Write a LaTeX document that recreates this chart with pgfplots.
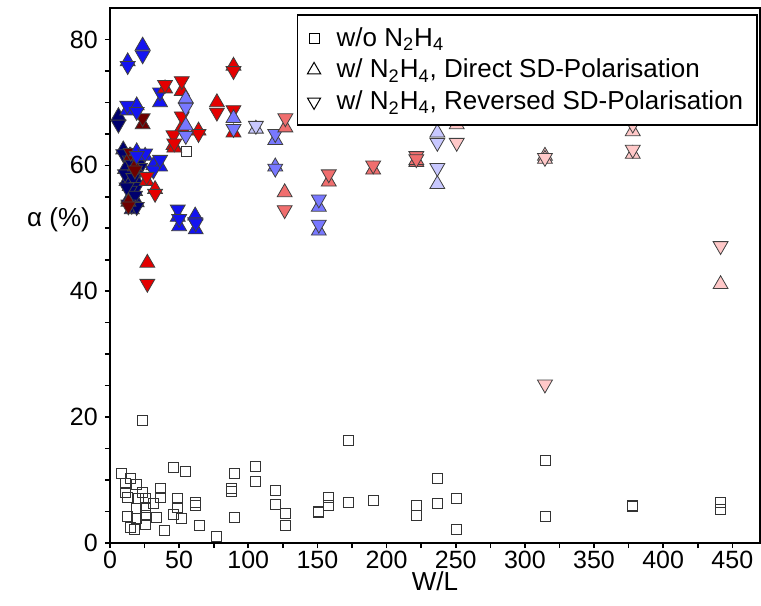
\documentclass[border=0pt]{standalone}
\usepackage{fontspec}
\setmainfont{Liberation Sans}
\usepackage{pgfplots}
\usepackage{pgfplotstable}
\pgfplotsset{compat=1.18}
\usetikzlibrary{calc}

\definecolor{navyc}{RGB}{0,0,110}
\definecolor{darkredc}{RGB}{110,0,0}
\definecolor{bluec}{RGB}{20,20,240}
\definecolor{redc}{RGB}{228,0,0}
\definecolor{medbluec}{RGB}{120,120,255}
\definecolor{salmonc}{RGB}{240,110,110}
\definecolor{lightbluec}{RGB}{200,200,255}
\definecolor{pinkc}{RGB}{255,200,200}

% squares: devices without N2H4
\pgfplotstableread{
x y
23.6 19.4
8 11.1
10.9 9.4
14.5 10.2
19.3 9.3
23.6 8.1
12.8 7.3
10.9 8.1
20.5 7.0
26 7.0
26 5.6
19.3 5.5
12.8 4.2
14.5 2.4
18 2.2
25.4 3.0
25.4 4.3
19.3 3.9
31.4 6.2
33.3 4.1
36.2 8.6
36.2 7.3
39.6 2.0
45.9 12.0
54.8 11.4
48.8 7.0
48.8 5.6
45.9 4.6
51.9 3.9
61.6 6.5
61.6 6.0
64.5 2.7
77.2 1.0
87.7 8.6
87.7 8.2
89.8 11.0
89.8 4.1
105.5 12.1
105.5 9.7
119.5 8.3
119.5 6.1
126.8 4.7
126.8 2.7
151 5.0
151 4.8
158.2 7.3
158.2 6.0
172.7 16.3
172.7 6.5
190.3 6.8
221.7 5.9
221.7 4.3
236.7 10.3
236.7 6.3
250.7 7.0
250.7 2.2
314.7 13.1
314.7 4.2
378 5.9
378 5.8
441.5 6.5
441.5 5.3
55.3 62.2
}\sq

% triangles: x, direct (D), reversed (R)
\pgfplotstableread{
x D R
6.1 67.8 66.5
9.6 62.5 61.8
10.9 59.4 58.6
14.3 61.5 60.8
16.9 58.8 58.0
19.3 57.5 56.6
14.3 56.7 56.0
18.1 55.9 55.2
13.3 54.6 53.8
15.7 53.0 53.6
19.3 54.1 53.4
21.7 60.4 59.6
12 57.5 56.5
}\navy
\pgfplotstableread{
x D R
23.6 66.5 67.5
18 59.8 59.2
13.3 54.2 53.5
15 61.5 62
}\darkred
\pgfplotstableread{
x D R
12.8 76.5 75.8
23.6 79 77.5
12.5 68.7 69.5
19.3 69.5 68.5
36.2 70 71.6
25.4 61.5 61.9
19.3 62.2 61.5
31.4 60 59.2
36.2 59.8 60.9
49 51.8 53
50 50.3 51.5
61.6 52 51
62 49.8 50.8
}\blue
\pgfplotstableread{
x D R
27 44.5 41.2
26.5 57.5 58.2
32.6 56.2 55.5
39.8 72.2 72.8
45.9 63.2 64.8
46.5 62.8 63.5
51.9 71.8 73.4
51.9 66 67.8
64 65.5 65
77.3 70 68.4
89.3 75.8 75
89.3 65.2 68.8
}\red
\pgfplotstableread{
x D R
54.8 70.6 69.2
54.8 66.3 64.7
89.3 67.5 65.8
119.5 64 65
119.5 59.8 59.5
151 53.4 54.6
151 49.6 50.6
}\medblue
\pgfplotstableread{
x D R
105.5 65.8 66.3
236.7 65.2 63.6
236.7 57 59.6
}\lightblue
\pgfplotstableread{
x D R
126.3 55.7 52.9
126.8 66 67.5
158.2 57.4 58.6
190.3 59.3 60
221.5 60.5 61.5
221.5 60.8 61
}\salmon
\pgfplotstableread{
x D R
250.7 66.5 63.6
314.5 61.5 61.2
314.5 61 25.2
378 65.4 62.5
378 61.8 66.5
441.5 41.1 47.2
}\pink

\pgfplotsset{
  up/.style={only marks, forget plot, mark=triangle*, mark size=4.3pt,
    mark options={draw=black!75, line width=0.4pt, fill=#1}},
  dn/.style={only marks, forget plot, mark=triangle*, mark size=4.3pt,
    mark options={draw=black!75, line width=0.4pt, fill=#1, rotate=180}},
}

\begin{document}
\begin{tikzpicture}
\begin{axis}[
  scale only axis,
  width=325pt, height=267.5pt,
  xmin=0, xmax=470, ymin=0, ymax=85,
  xtick={0,50,...,450}, minor x tick num=1,
  ytick={0,20,...,80}, minor y tick num=3,
  xtick pos=bottom, ytick pos=left,
  tick align=outside,
  major tick length=2.6pt, minor tick length=2.6pt,
  tick style={black, line width=0.8pt},
  axis line style={black, line width=1pt},
  ticklabel style={font=\fontsize{12.5}{14}\selectfont},
  xticklabel style={yshift=2.2pt},
  /pgf/number format/assume math mode=true,
  xlabel={W/L}, ylabel={α (\%)},
  every axis x label/.style={at={(rel axis cs:0.5,0)}, anchor=base,
    yshift=-24pt, font=\fontsize{13}{15}\selectfont},
  every axis y label/.style={at={(rel axis cs:0,0.605)}, anchor=east,
    xshift=-6.5pt, font=\fontsize{13}{15}\selectfont},
  legend style={at={(rel axis cs:0.997,0.988)}, anchor=north east,
    draw=black, line width=0.8pt, font=\fontsize{13}{15}\selectfont,
    row sep=1pt, inner xsep=5pt, inner ysep=4pt,
    /tikz/every odd column/.append style={column sep=6pt}},
  legend cell align=left,
]
\addplot[only marks, forget plot, mark=square, mark size=2.5pt,
  mark options={draw=black!80, line width=0.5pt}] table[x=x, y=y] {\sq};

\addplot[up=navyc] table[x=x, y=D] {\navy};
\addplot[dn=navyc] table[x=x, y=R] {\navy};
\addplot[up=darkredc] table[x=x, y=D] {\darkred};
\addplot[dn=darkredc] table[x=x, y=R] {\darkred};
\addplot[up=bluec] table[x=x, y=D] {\blue};
\addplot[dn=bluec] table[x=x, y=R] {\blue};
\addplot[up=redc] table[x=x, y=D] {\red};
\addplot[dn=redc] table[x=x, y=R] {\red};
\addplot[up=medbluec] table[x=x, y=D] {\medblue};
\addplot[dn=medbluec] table[x=x, y=R] {\medblue};
\addplot[up=lightbluec] table[x=x, y=D] {\lightblue};
\addplot[dn=lightbluec] table[x=x, y=R] {\lightblue};
\addplot[up=salmonc] table[x=x, y=D] {\salmon};
\addplot[dn=salmonc] table[x=x, y=R] {\salmon};
\addplot[up=pinkc] table[x=x, y=D] {\pink};
\addplot[dn=pinkc] table[x=x, y=R] {\pink};

\addlegendimage{only marks, mark=square, mark size=2.5pt, mark options={draw=black, fill=white, line width=0.5pt}}
\addlegendentry{w/o N\textsubscript{2}H\textsubscript{4}}
\addlegendimage{only marks, mark=triangle, mark size=3.8pt, mark options={draw=black, line width=0.5pt}}
\addlegendentry{w/ N\textsubscript{2}H\textsubscript{4}, Direct SD-Polarisation}
\addlegendimage{only marks, mark=triangle, mark size=3.8pt, mark options={draw=black, line width=0.5pt, rotate=180}}
\addlegendentry{w/ N\textsubscript{2}H\textsubscript{4}, Reversed SD-Polarisation}
\end{axis}
\pgfresetboundingbox
\path[use as bounding box] ($(current axis.south west)+(-55pt,-31.5pt)$) rectangle ($(current axis.north east)+(0.5pt,4pt)$);
\end{tikzpicture}
\end{document}
